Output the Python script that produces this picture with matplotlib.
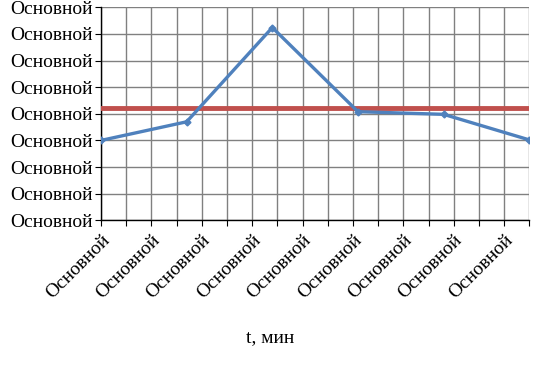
import matplotlib.pyplot as plt

# data
t = [0, 3.4, 6.8, 10.2, 13.6, 17]
values = [3.0, 3.7, 7.24, 4.08, 3.98, 3.02]
level = 4.2
y_ticks = list(range(9))
y_labels = ['Основной'] * 9
x_ticks = list(range(18))
x_labels = ['Основной' if i % 2 == 0 else '' for i in x_ticks]

plt.rcParams['font.family'] = ['Liberation Serif', 'DejaVu Serif']

fig = plt.figure(figsize=(5.4, 3.68), dpi=100)
ax = fig.add_axes([101 / 540, 1 - 220.3 / 368, 428.3 / 540, 213 / 368])

ax.plot([0, 17], [level, level], color='#C0504D', lw=3.5, zorder=3)
ax.plot(t, values, color='#4F81BD', lw=2.4, marker='D', ms=3.5, zorder=4)

ax.set_xlim(0, 17)
ax.set_ylim(0, 8)
ax.set_xticks(x_ticks)
ax.set_xticklabels(x_labels, rotation=45, ha='right', rotation_mode='anchor')
ax.set_yticks(y_ticks)
ax.set_yticklabels(y_labels)
ax.tick_params(labelsize=14, length=4, color='black', direction='out')
ax.tick_params(axis='y', pad=2)
ax.tick_params(axis='x', pad=4)

ax.grid(True, color='#808080', lw=1)
ax.set_axisbelow(True)
for s in ['top', 'right']:
    ax.spines[s].set_visible(False)
for s in ['left', 'bottom']:
    ax.spines[s].set_color('black')
    ax.spines[s].set_linewidth(1)

fig.text(0.5, 1 - 338 / 368, 't, мин', ha='center', va='center', fontsize=14)

plt.savefig('out.png', dpi=100)
